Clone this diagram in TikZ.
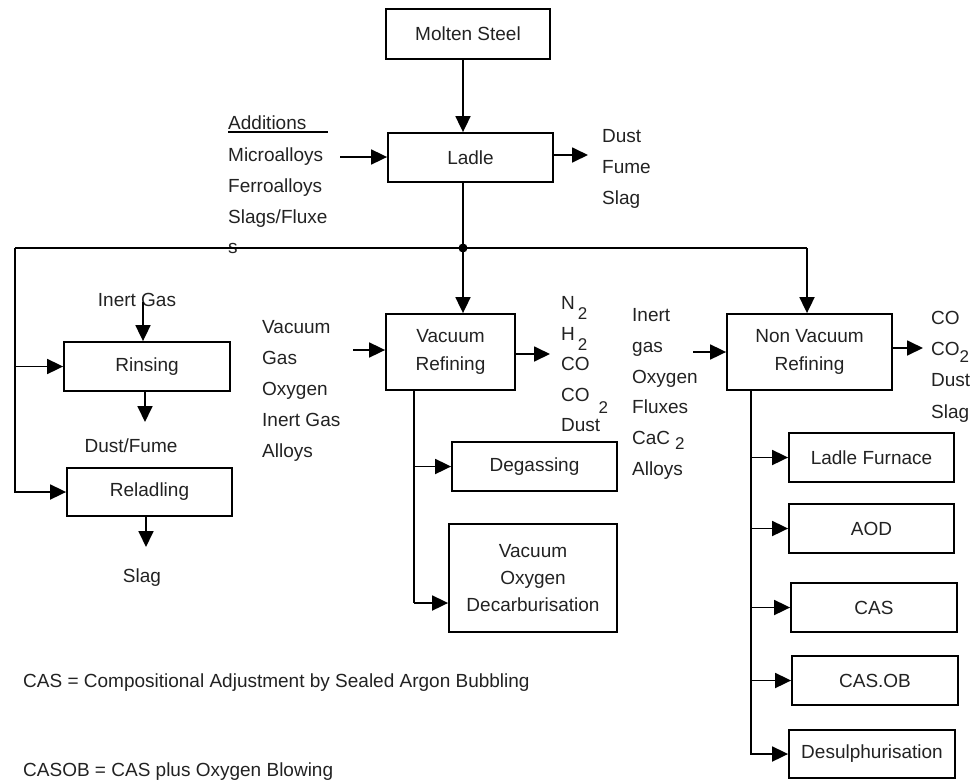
\documentclass[tikz,border=0pt]{standalone}
\usepackage{fontspec}
\setmainfont{Liberation Sans}
\usetikzlibrary{arrows.meta}
\definecolor{ink}{HTML}{222222}
\begin{document}
\begin{tikzpicture}[x=1pt,y=-1pt,
  txt/.style={text=ink,font=\fontsize{19}{28}\selectfont,inner sep=0pt,anchor=base west},
  ctxt/.style={txt,anchor=base},
  box/.style={draw=black,line width=1.8pt,text=ink,font=\fontsize{19}{28}\selectfont,align=center,inner sep=0pt},
  wire/.style={line width=1.8pt},
  arr/.style={wire,-{Triangle[length=16pt,width=15pt]}},
]
\useasboundingbox (0,0) rectangle (980,782);
\newcommand{\lowtwo}[1]{\raisebox{#1}{\fontsize{17}{17}\selectfont 2}}

% process boxes
\node[box,minimum width=164pt,minimum height=50pt] (molten) at (468,34) {Molten Steel};
\node[box,minimum width=165pt,minimum height=49pt] (ladle) at (470.5,157.5) {Ladle};
\node[box,minimum width=166pt,minimum height=49pt] (rinse) at (147,366.5) {Rinsing};
\node[box,minimum width=165pt,minimum height=48pt] (relad) at (149.5,492) {Reladling};
\node[box,minimum width=129pt,minimum height=76pt] (vr) at (450.5,352) {Vacuum\\Refining};
\node[box,minimum width=165pt,minimum height=49pt] (degas) at (534.5,466.5) {Degassing};
\node[box,minimum width=168pt,minimum height=108pt,font=\fontsize{19}{27}\selectfont] (vod) at (533,578) {Vacuum\\Oxygen\\Decarburisation};
\node[box,minimum width=165pt,minimum height=76pt] (nvr) at (809.5,352) {Non Vacuum\\Refining};
\node[box,minimum width=165pt,minimum height=49pt] (lf) at (871.5,457.5) {Ladle Furnace};
\node[box,minimum width=165pt,minimum height=49pt] (aod) at (871.5,528.5) {AOD};
\node[box,minimum width=166pt,minimum height=49pt] (cas) at (874,607.5) {CAS};
\node[box,minimum width=166pt,minimum height=49pt] (casob) at (875,680.5) {CAS.OB};
\node[box,minimum width=166pt,minimum height=48pt] (desul) at (872,754) {Desulphurisation};

% additions to the ladle
\node[txt] (addh) at (228,129) {Additions};
\draw[wire] (addh.base west) ++(0,3) -- ++(100,0);
\node[txt] (add1) at (228,161) {Microalloys};
\node[txt] (add2) at (228,192) {Ferroalloys};
\node[txt] (add3) at (228,223) {Slags/Fluxe};
\node[txt] (add4) at (228,253) {s};

% ladle emissions
\node[txt] (le1) at (602,142) {Dust};
\node[txt] (le2) at (602,173) {Fume};
\node[txt] (le3) at (602,204) {Slag};

% rinsing and reladling streams
\node[ctxt] (igas) at (137,306) {Inert Gas};
\node[ctxt] (rfume) at (131,452) {Dust/Fume};
\node[ctxt] (rslag) at (142,582) {Slag};

% vacuum refining inputs
\node[txt] (vi1) at (262,333) {Vacuum};
\node[txt] (vi2) at (262,364) {Gas};
\node[txt] (vi3) at (262,395) {Oxygen};
\node[txt] (vi4) at (262,426) {Inert Gas};
\node[txt] (vi5) at (262,457) {Alloys};

% vacuum refining outputs
\node[txt] (vo1) at (561,309) {N\hspace{3pt}\lowtwo{-10pt}};
\node[txt] (vo2) at (561,340) {H\hspace{3pt}\lowtwo{-10pt}};
\node[txt] (vo3) at (561,370) {CO};
\node[txt] (vo4) at (561,401) {CO\hspace{9pt}\lowtwo{-12pt}};
\node[txt] (vo5) at (561,431) {Dust};

% non vacuum refining inputs
\node[txt] (ni1) at (632,321) {Inert};
\node[txt] (ni2) at (632,352) {gas};
\node[txt] (ni3) at (632,383) {Oxygen};
\node[txt] (ni4) at (632,413) {Fluxes};
\node[txt] (ni5) at (632,444) {CaC\hspace{5pt}\lowtwo{-5pt}};
\node[txt] (ni6) at (632,475) {Alloys};

% non vacuum refining outputs
\node[txt] (no1) at (931,324) {CO};
\node[txt] (no2) at (931,355) {CO\lowtwo{-7pt}};
\node[txt] (no3) at (931,386) {Dust};
\node[txt] (no4) at (931,418) {Slag};

% legend
\node[txt] (leg1) at (23,687) {CAS = Compositional Adjustment by Sealed Argon Bubbling};
\node[txt] (leg2) at (23,776) {CASOB = CAS plus Oxygen Blowing};

% connector points
\coordinate (dot) at (463,248);
\coordinate (lft) at (15,248);
\coordinate (rgt) at (807,248);
\coordinate (addin) at (340,157);
\coordinate (ladout) at (588,155);
\coordinate (gasin) at (143,302);
\coordinate (rout) at (145,422);
\coordinate (relout) at (146,547);
\coordinate (vrin) at (353,350);
\coordinate (vrout) at (550,354);
\coordinate (vrbot) at (414,603);
\coordinate (nvin) at (693,352);
\coordinate (nvout) at (923,348);
\coordinate (nvx) at (751,0);

% main flow
\draw[arr] (molten.south -| dot) -- (ladle.north -| dot);
\draw[wire] (ladle.south -| dot) -- (dot);
\draw[wire] (lft) -- (rgt);
\fill (dot) circle (4.5pt);
\draw[arr] (dot) -- (vr.north -| dot);
\draw[arr] (rgt) -- (nvr.north -| rgt);
\draw[arr] (lft) |- (relad.west);
\draw[arr] (lft |- rinse.west) -- (rinse.west);

% ladle streams
\draw[arr] (addin) -- (ladle.west |- addin);
\draw[arr] (ladle.east |- ladout) -- (ladout);

% rinsing and reladling streams
\draw[arr] (gasin) -- (rinse.north -| gasin);
\draw[arr] (rinse.south -| rout) -- (rout);
\draw[arr] (relad.south -| relout) -- (relout);

% vacuum refining
\draw[arr] (vrin) -- (vr.west |- vrin);
\draw[arr] (vr.east |- vrout) -- (vrout);
\draw[wire] (vr.south -| vrbot) -- (vrbot);
\draw[arr] (vrbot |- degas.west) -- (degas.west);
\draw[arr] (vrbot) -- (vod.west |- vrbot);

% non vacuum refining
\draw[arr] (nvin) -- (nvr.west |- nvin);
\draw[arr] (nvr.east |- nvout) -- (nvout);
\draw[arr] (nvr.south -| nvx) |- (desul.west);
\draw[arr] (nvx |- lf.west) -- (lf.west);
\draw[arr] (nvx |- aod.west) -- (aod.west);
\draw[arr] (nvx |- cas.west) -- (cas.west);
\draw[arr] (nvx |- casob.west) -- (casob.west);
\end{tikzpicture}
\end{document}
